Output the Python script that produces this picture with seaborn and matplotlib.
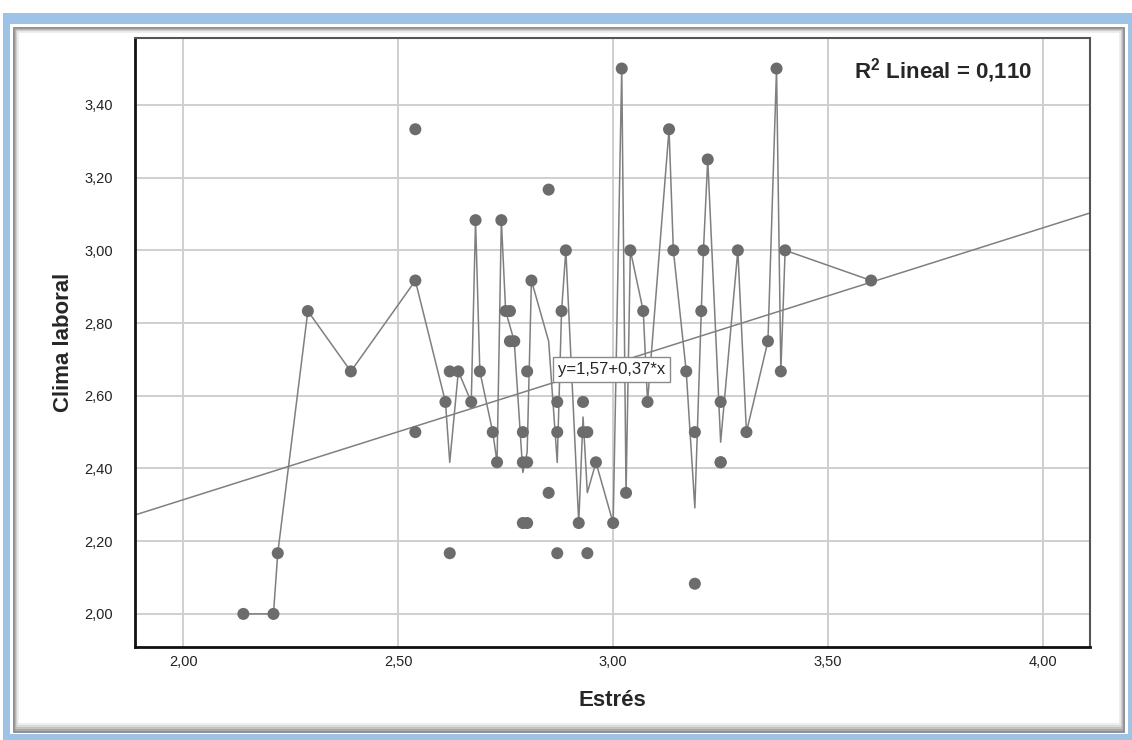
import numpy as np
import pandas as pd
import matplotlib
matplotlib.use("Agg")
import matplotlib.pyplot as plt
from matplotlib.patches import Rectangle
import seaborn as sns

# Puntos (Estres, Clima laboral)
estres = [2.14, 2.21, 2.22, 2.29, 2.39, 2.54, 2.54, 2.54, 2.61, 2.62,
          2.62, 2.64, 2.67, 2.68, 2.69, 2.72, 2.73, 2.74, 2.75, 2.76,
          2.76, 2.77, 2.79, 2.79, 2.79, 2.80, 2.80, 2.80, 2.81, 2.85,
          2.85, 2.87, 2.87, 2.87, 2.88, 2.89, 2.92, 2.93, 2.93, 2.94,
          2.94, 2.96, 3.00, 3.02, 3.03, 3.04, 3.07, 3.08, 3.13, 3.14,
          3.17, 3.19, 3.19, 3.205, 3.21, 3.22, 3.25, 3.25, 3.25, 3.29,
          3.31, 3.36, 3.38, 3.39, 3.40, 3.60]
clima = [2.000, 2.000, 2.167, 2.833, 2.667, 3.333, 2.917, 2.500, 2.583, 2.667,
         2.167, 2.667, 2.583, 3.083, 2.667, 2.500, 2.417, 3.083, 2.833, 2.833,
         2.750, 2.750, 2.500, 2.417, 2.250, 2.417, 2.250, 2.667, 2.917, 3.167,
         2.333, 2.583, 2.500, 2.167, 2.833, 3.000, 2.250, 2.583, 2.500, 2.500,
         2.167, 2.417, 2.250, 3.500, 2.333, 3.000, 2.833, 2.583, 3.333, 3.000,
         2.667, 2.500, 2.083, 2.833, 3.000, 3.250, 2.583, 2.417, 2.417, 3.000,
         2.500, 2.750, 3.500, 2.667, 3.000, 2.917]

# Recta de ajuste y textos del SPSS
b0 = 1.566
b1 = 0.374
r2_txt = "0,110"
eq_txt = "y=1,57+0,37*x"

xticks = [2.0, 2.5, 3.0, 3.5, 4.0]
yticks = [2.0, 2.2, 2.4, 2.6, 2.8, 3.0, 3.2, 3.4]

df = pd.DataFrame({"Estres": estres, "Clima": clima})

sns.set_style("white")
plt.rcParams["font.family"] = ["Liberation Sans", "DejaVu Sans"]
plt.rcParams["mathtext.fontset"] = "custom"
plt.rcParams["mathtext.rm"] = "Liberation Sans"
plt.rcParams["mathtext.bf"] = "Liberation Sans:bold"

W, H = 1132, 740
fig = plt.figure(figsize=(W / 100, H / 100), dpi=100)


def box(x0, y0, x1, y1):
    return (x0 / W, 1 - y1 / H), (x1 - x0) / W, (y1 - y0) / H


# marco azul / panel con sombra
xy, w, h = box(3, 13, 1132, 740)
fig.patches.append(Rectangle(xy, w, h, transform=fig.transFigure, fc="#9dc3e6", ec="none", zorder=-5))
xy, w, h = box(10, 24, 1128, 734)
fig.patches.append(Rectangle(xy, w, h, transform=fig.transFigure, fc="white", ec="none", zorder=-5))
shades = ["#7c7c7c", "#9a9a9a", "#b8b8b8", "#d4d4d4", "#ebebeb"]
for i, c in enumerate(shades):
    xy, w, h = box(14 + i, 28 + i, 1124 - i, 732 - 2 * i)
    fig.patches.append(Rectangle(xy, w, h, transform=fig.transFigure, fc="white" if i == len(shades) - 1 else "none",
                                 ec=c, lw=1.2, zorder=-5))

pos = box(135, 38, 1090, 647)
ax = fig.add_axes([pos[0][0], pos[0][1], pos[1], pos[2]])
ax.set_zorder(5)

sns.lineplot(data=df, x="Estres", y="Clima", estimator="mean", errorbar=None,
             color="#7f7f7f", lw=1.1, ax=ax, zorder=3)
sns.scatterplot(data=df, x="Estres", y="Clima", s=75, color="#6c6c6c",
                edgecolor="none", ax=ax, zorder=4)
ax.axline((0, b0), slope=b1, color="#808080", lw=1.1, zorder=2)

ax.set_xlim(1.888, 4.109)
ax.set_ylim(1.909, 3.584)
ax.set_xticks(xticks)
ax.set_yticks(yticks)
ax.set_xticklabels([f"{t:.2f}".replace(".", ",") for t in xticks])
ax.set_yticklabels([f"{t:.2f}".replace(".", ",") for t in yticks])
ax.grid(True, color="#cfcfcf", lw=1.4)
ax.set_axisbelow(True)
ax.tick_params(axis="y", length=0, labelsize=10.5, pad=16, colors="#222222")
ax.tick_params(axis="x", length=0, labelsize=10.5, pad=6, colors="#222222")
for s in ["top", "right"]:
    ax.spines[s].set_color("#555555")
    ax.spines[s].set_linewidth(1.5)
for s in ["left", "bottom"]:
    ax.spines[s].set_color("#111111")
    ax.spines[s].set_linewidth(2)

ax.set_xlabel("Estrés", fontsize=16, fontweight="bold", labelpad=15)
ax.set_ylabel("Clima laboral", fontsize=16, fontweight="bold", labelpad=7)

ax.text(0.939, 0.947, r"$\mathbf{R^{2}}$ Lineal = " + r2_txt, transform=ax.transAxes,
        fontsize=16, fontweight="bold", ha="right", va="center", zorder=6)
ax.text(2.997, 2.671, eq_txt, fontsize=12, ha="center", va="center", zorder=6,
        bbox=dict(boxstyle="square,pad=0.3", fc="white", ec="#8a8a8a", lw=1))

fig.savefig("out.png", dpi=100)
